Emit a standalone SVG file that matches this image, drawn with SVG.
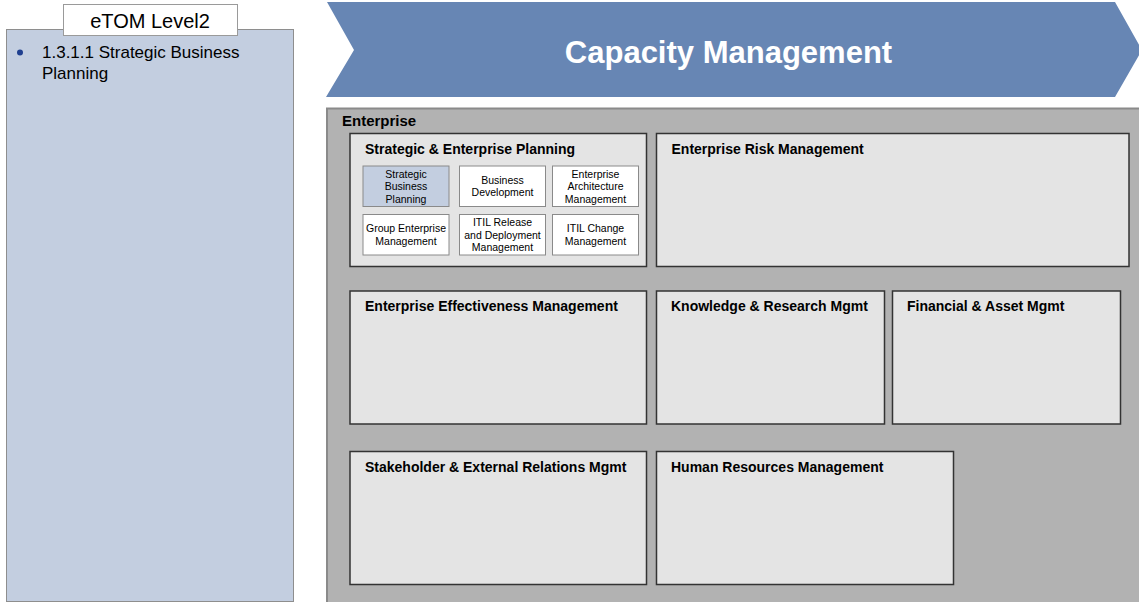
<svg xmlns="http://www.w3.org/2000/svg" width="1139" height="602" viewBox="0 0 1139 602">
<style>
  text { font-family: "Liberation Sans", Arial, sans-serif; }
  .panel { fill: #c3cee0; stroke: #8e8e8e; stroke-width: 1; }
  .tag { fill: #ffffff; stroke: #9a9a9a; stroke-width: 1; }
  .tagtxt { font-size: 20px; fill: #000; text-anchor: middle; }
  .bullet { font-size: 17px; fill: #000; }
  .chev { fill: #6786b4; }
  .title { font-size: 31px; font-weight: bold; fill: #ffffff; text-anchor: middle; }
  .ent { fill: #b2b2b2; stroke: #8a8a8a; stroke-width: 2; }
  .enttxt { font-size: 15px; font-weight: bold; fill: #000; }
  .box { fill: #e4e4e4; stroke: #333333; stroke-width: 1.5; }
  .boxtxt { font-size: 14px; font-weight: bold; fill: #000; }
  .sub { fill: #ffffff; stroke: #8a8a8a; stroke-width: 1; }
  .subsel { fill: #c3cee0; stroke: #8a8a8a; stroke-width: 1; }
  .subtxt { font-size: 10.5px; fill: #000; text-anchor: middle; }
</style>

<g id="left-panel">
  <rect class="panel" x="6.5" y="29.5" width="287" height="572"/>
  <circle cx="20" cy="52.5" r="3" fill="#1f3f8f"/>
  <text class="bullet" x="42" y="58">1.3.1.1 Strategic Business</text>
  <text class="bullet" x="42" y="79">Planning</text>
</g>

<g id="etom-tag">
  <rect class="tag" x="63.5" y="4.5" width="174" height="31"/>
  <text class="tagtxt" x="150" y="28">eTOM Level2</text>
</g>

<g id="chevron">
  <polygon class="chev" points="327,2 1115,2 1142,50 1115,97 326,97 354,50"/>
  <text class="title" x="728.5" y="62.5">Capacity Management</text>
</g>

<g id="enterprise">
  <rect class="ent" x="327" y="108.5" width="820" height="500"/>
  <text class="enttxt" x="342" y="126">Enterprise</text>
</g>

<g id="strategic-enterprise-planning">
  <rect class="box" x="350" y="133.5" width="296.5" height="133"/>
  <text class="boxtxt" x="365" y="154">Strategic &amp; Enterprise Planning</text>
</g>

<g id="strategic-business-planning">
  <rect class="subsel" x="363" y="166" width="86" height="40.5"/>
  <text class="subtxt" x="406" y="177.5">Strategic</text>
  <text class="subtxt" x="406" y="190">Business</text>
  <text class="subtxt" x="406" y="202.5">Planning</text>
</g>

<g id="business-development">
  <rect class="sub" x="459.5" y="166" width="86" height="40.5"/>
  <text class="subtxt" x="502.5" y="183.5">Business</text>
  <text class="subtxt" x="502.5" y="196">Development</text>
</g>

<g id="enterprise-architecture-management">
  <rect class="sub" x="552.5" y="166" width="86" height="40.5"/>
  <text class="subtxt" x="595.5" y="177.5">Enterprise</text>
  <text class="subtxt" x="595.5" y="190">Architecture</text>
  <text class="subtxt" x="595.5" y="202.5">Management</text>
</g>

<g id="group-enterprise-management">
  <rect class="sub" x="363" y="214.5" width="86" height="40.5"/>
  <text class="subtxt" x="406" y="232">Group Enterprise</text>
  <text class="subtxt" x="406" y="244.5">Management</text>
</g>

<g id="itil-release-deployment">
  <rect class="sub" x="459.5" y="214.5" width="86" height="40.5"/>
  <text class="subtxt" x="502.5" y="226">ITIL Release</text>
  <text class="subtxt" x="502.5" y="238.5">and Deployment</text>
  <text class="subtxt" x="502.5" y="251">Management</text>
</g>

<g id="itil-change-management">
  <rect class="sub" x="552.5" y="214.5" width="86" height="40.5"/>
  <text class="subtxt" x="595.5" y="232">ITIL Change</text>
  <text class="subtxt" x="595.5" y="244.5">Management</text>
</g>

<g id="enterprise-risk-management">
  <rect class="box" x="656.5" y="133.5" width="472.5" height="133"/>
  <text class="boxtxt" x="671.5" y="153.5">Enterprise Risk Management</text>
</g>

<g id="enterprise-effectiveness-management">
  <rect class="box" x="350" y="291" width="296.5" height="133"/>
  <text class="boxtxt" x="365" y="311">Enterprise Effectiveness Management</text>
</g>

<g id="knowledge-research-mgmt">
  <rect class="box" x="656.5" y="291" width="228" height="133"/>
  <text class="boxtxt" x="671" y="311">Knowledge &amp; Research Mgmt</text>
</g>

<g id="financial-asset-mgmt">
  <rect class="box" x="892.5" y="291" width="228" height="133"/>
  <text class="boxtxt" x="907" y="311">Financial &amp; Asset Mgmt</text>
</g>

<g id="stakeholder-external-relations-mgmt">
  <rect class="box" x="350" y="451.5" width="296.5" height="133"/>
  <text class="boxtxt" x="365" y="472">Stakeholder &amp; External Relations Mgmt</text>
</g>

<g id="human-resources-management">
  <rect class="box" x="656.5" y="451.5" width="297" height="133"/>
  <text class="boxtxt" x="671" y="472">Human Resources Management</text>
</g>

<g id="connectors"></g>
</svg>
